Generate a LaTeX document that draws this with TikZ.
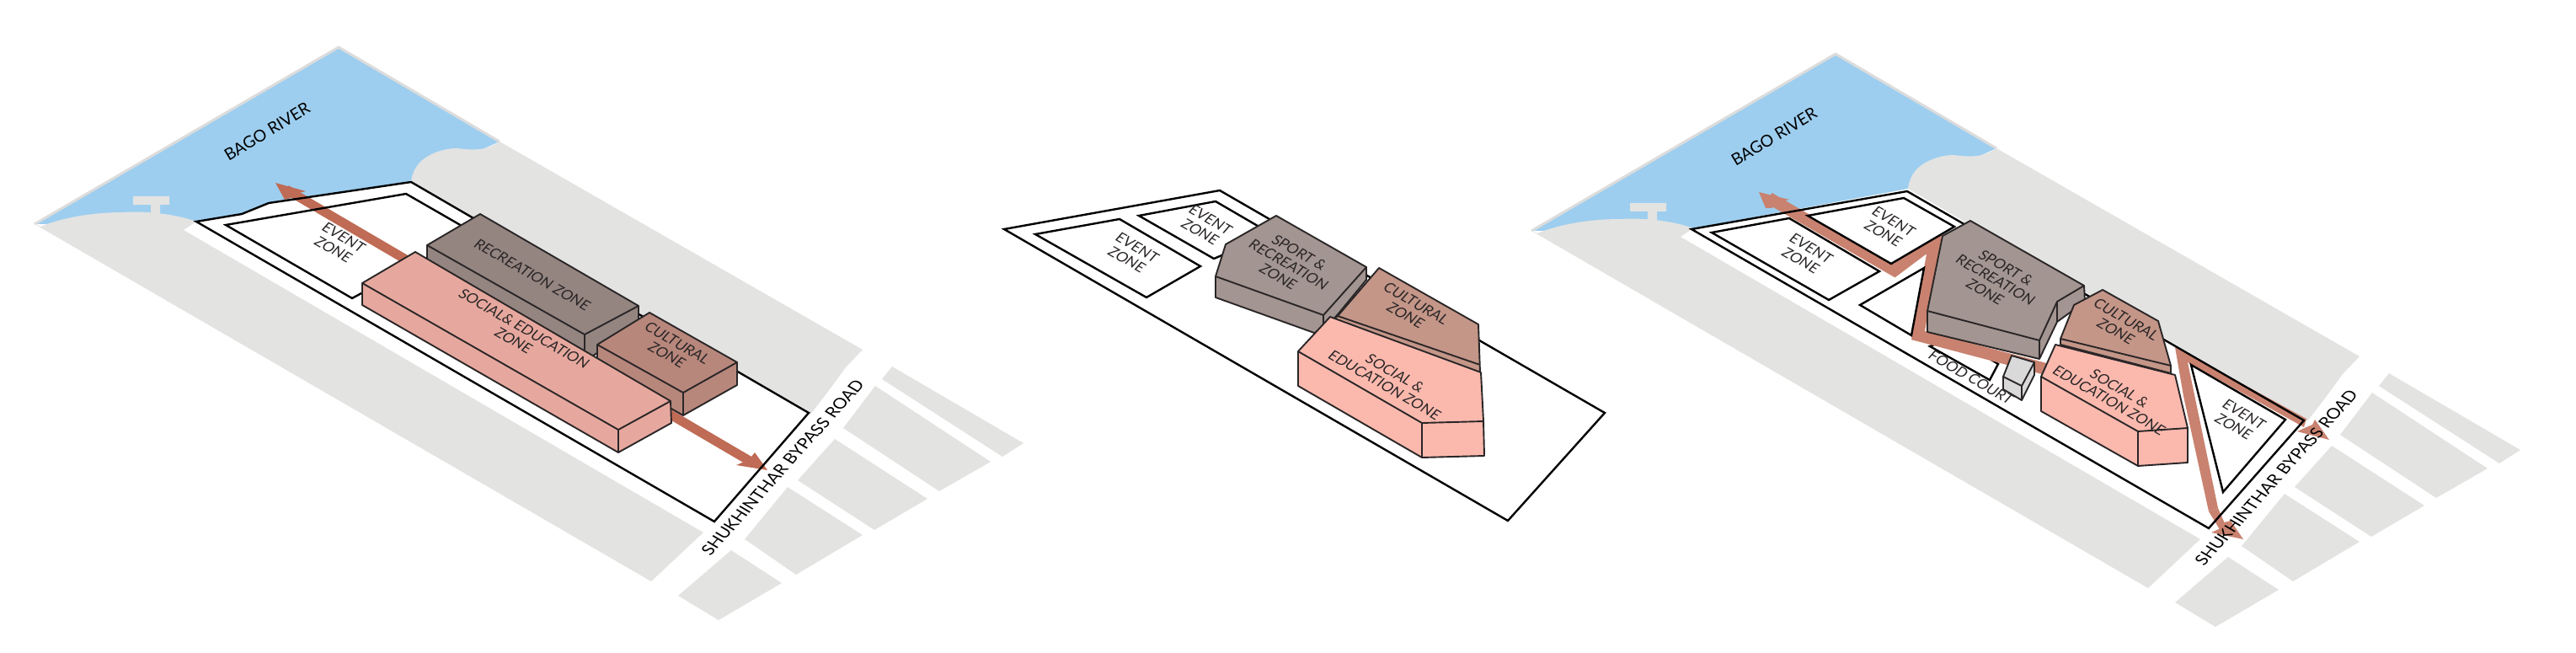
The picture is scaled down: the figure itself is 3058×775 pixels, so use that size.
\documentclass[tikz,border=0pt]{standalone}
\usepackage{fontspec}
\setmainfont{Lato}
\definecolor{ground}{HTML}{E3E3E2}
\definecolor{groundedge}{HTML}{DCDCDC}
\definecolor{river}{HTML}{9DCEEF}
\definecolor{recA}{HTML}{948581}
\definecolor{socA}{HTML}{E6A89E}
\definecolor{culA}{HTML}{B8877C}
\definecolor{flowA}{HTML}{BF6B55}
\definecolor{recB}{HTML}{A39591}
\definecolor{socB}{HTML}{FBB9AE}
\definecolor{culB}{HTML}{C49688}
\definecolor{flowB}{HTML}{C9826F}
\definecolor{ink}{HTML}{2A2627}
\tikzset{
  site/.style={draw=black,line width=2.4,line join=miter,fill=white},
  siteline/.style={draw=black,line width=2.4,line join=miter},
  zone/.style={draw=black,line width=2.4,line join=miter,fill=white},
  blk/.style={draw=ink,line width=1.9,line join=round},
  lbl/.style={text=ink,font=\fontsize{17}{18.5}\selectfont,align=center,inner sep=0pt,rotate=-30,xslant=0.2},
  bigl/.style={text=black,font=\fontsize{19.5}{22}\selectfont,align=center,inner sep=0pt},
  barA/.style={draw=flowA,line width=11},
  barB/.style={draw=flowB,line width=14,line join=miter}
}
\newcommand{\sitebackground}{%
  \fill[river] (41,266) -- (402,56) -- (593,168) -- (488,216) -- (233,263) -- cycle;
  \draw[groundedge,line width=3] (41,266) -- (402,56) -- (593,168);
  \fill[ground] (41,266) -- (773,690) -- (835,632) -- (218,273) -- (233,263)
     .. controls (210,254) and (170,250) .. (147,252)
     .. controls (110,252) and (75,258) .. (48,269) -- cycle;
  \fill[ground] (158,233) -- (201,233) -- (201,243) -- (190,243) -- (190,256) -- (179,256) -- (179,243) -- (158,243) -- cycle;
  \fill[ground] (593,168) -- (1024,415) -- (1004,436) -- (982,466) -- (962,492) -- (488,216)
     .. controls (489,205) and (495,194) .. (504,188)
     .. controls (515,180) and (530,176) .. (542,176)
     .. controls (560,178) and (575,180) .. (593,168) -- cycle;
  \fill[ground] (1059,435) -- (1215,526) -- (1190,542) -- (1047,450) -- cycle;
  \fill[ground] (1039,458) -- (1176,548) -- (1115,583) -- (1001,508) -- cycle;
  \fill[ground] (991,521) -- (1101,592) -- (1038,629) -- (947,570) -- cycle;
  \fill[ground] (935,578) -- (1024,635) -- (945,682) -- (884,640) -- cycle;
  \fill[ground] (868,653) -- (928,692) -- (853,736) -- (805,707) -- cycle;
}
\begin{document}
\begin{tikzpicture}[x=1pt,y=-1pt]
\useasboundingbox (0,0) rectangle (3058,775);
% ---------- left diagram ----------
\sitebackground
\fill[white] (233,263) -- (287,254) -- (319,241) -- (488,216) -- (960,490) -- (848,619) -- cycle;
\coordinate (a1s) at (340,225);
\coordinate (a1e) at (895,550);
\draw[barA] (a1s) -- (a1e);
\fill[flowA] (327,217) -- (363,227) -- (350,230) -- (345,235) -- (338,237) -- cycle;
\fill[flowA] (911,558) -- (874,552) -- (888,546) -- (892,542) -- (896,537) -- cycle;
\draw[siteline] (233,263) -- (287,254) -- (319,241) -- (488,216) -- (960,490) -- (848,619) -- cycle;
\draw[siteline] (268,267) -- (482,230) -- (562,276) -- (418,354) -- cycle;
\filldraw[blk,fill=recA] (570,254) -- (758,363) -- (758,385) -- (700,425) -- (507,310) -- (507,291) -- cycle;
\draw[blk] (507,291) -- (694,397) -- (758,363);
\draw[blk] (694,397) -- (694,420);
\filldraw[blk,fill=culA] (771,371) -- (875,430) -- (875,457) -- (811,493) -- (709,435) -- (709,409) -- cycle;
\draw[blk] (709,409) -- (811,466) -- (875,430);
\draw[blk] (811,466) -- (811,493);
\filldraw[blk,fill=socA] (493,299) -- (796,476) -- (797,502) -- (734,537) -- (430,362) -- (430,336) -- cycle;
\draw[blk] (430,336) -- (734,510) -- (796,476);
\draw[blk] (734,510) -- (734,537);
\node[bigl,rotate=31] (d1river) at (317,156) {BAGO RIVER};
\node[lbl] (d1event) at (402,289) {EVENT\\ZONE};
\node[lbl] (d1rec) at (632,326) {RECREATION ZONE};
\node[lbl] (d1soc) at (616,397) {SOCIAL\& EDUCATION\\ZONE};
\node[lbl] (d1cul) at (798,414) {CULTURAL\\ZONE};
\node[bigl,rotate=48,xslant=-0.2] (d1road) at (929,555) {SHUKHINTHAR BYPASS ROAD};
% ---------- middle diagram ----------
\draw[site] (1192,272) -- (1448,226) -- (1905,490) -- (1790,618) -- cycle;
\draw[zone] (1229,278) -- (1329,260) -- (1425,316) -- (1361,353) -- cycle;
\draw[zone] (1352,256) -- (1443,239) -- (1510,278) -- (1441,307) -- cycle;
\filldraw[blk,fill=recB] (1515,256) -- (1622,317) -- (1622,332) -- (1589,372) -- (1573,390) -- (1560,395) -- (1443,353) -- (1443,328) -- (1455,290) -- cycle;
\draw[blk] (1443,328) -- (1571,374) -- (1622,317);
\draw[blk] (1571,374) -- (1571,392);
\filldraw[blk,fill=culB] (1637,318) -- (1755,385) -- (1757,442) -- (1582,380) -- (1588,375) -- cycle;
\draw[blk] (1588,375) -- (1757,433);
\filldraw[blk,fill=socB] (1579,376) -- (1758,442) -- (1761,500) -- (1762,541) -- (1688,543) -- (1541,458) -- (1541,417) -- cycle;
\draw[blk] (1541,417) -- (1688,502) -- (1761,500);
\draw[blk] (1688,502) -- (1688,543);
\node[lbl] (d2e1) at (1344,301) {EVENT\\ZONE};
\node[lbl] (d2e2) at (1431,268) {EVENT\\ZONE};
\node[lbl] (d2rec) at (1530,314) {SPORT \&\\RECREATION\\ZONE};
\node[lbl] (d2cul) at (1675,367) {CULTURAL\\ZONE};
\node[lbl] (d2soc) at (1650,450) {SOCIAL \&\\EDUCATION ZONE};
% ---------- right diagram ----------
\begin{scope}[shift={(1777,8)}]
\sitebackground
\end{scope}
\fill[white] (2008,272) -- (2264,227) -- (2735,499) -- (2622,627) -- cycle;
\draw[zone] (2291,411) -- (2362,451) -- (2372,432) -- (2320,400) -- cycle;
\coordinate (b1) at (2100,235);
\coordinate (b2) at (2249,321);
\coordinate (b3) at (2297,285);
\coordinate (b4) at (2277,398);
\coordinate (b5) at (2440,441);
\draw[barB] (b1) -- (b2) -- (b3) -- (b4) -- (b5);
\fill[flowB] (2088,228) -- (2124,237) -- (2112,240) -- (2103,247) -- (2096,247) -- cycle;
\fill[flowB] (2582,412) -- (2738,497) -- (2735,507) -- (2597,430) -- (2633,603) -- (2622,607) -- (2592,470) -- cycle;
\fill[flowB] (2663,640) -- (2625,632) -- (2634,628) -- (2640,620) -- (2648,618) -- cycle;
\fill[flowB] (2622,607) -- (2633,603) -- (2644,628) -- (2636,630) -- cycle;
\fill[flowB] (2765,522) -- (2727,512) -- (2738,507) -- (2745,504) -- (2748,498) -- cycle;
\draw[siteline] (2008,272) -- (2264,227) -- (2735,499) -- (2622,627) -- cycle;
\draw[zone] (2032,276) -- (2124,259) -- (2231,322) -- (2171,356) -- cycle;
\draw[zone] (2146,256) -- (2260,235) -- (2320,269) -- (2245,313) -- cycle;
\draw[zone] (2284,318) -- (2269,398) -- (2208,362) -- cycle;
\draw[zone] (2601,433) -- (2713,498) -- (2639,584) -- cycle;
\filldraw[blk,fill=recB] (2339,262) -- (2474,339) -- (2475,358) -- (2442,382) -- (2421,426) -- (2288,394) -- (2288,369) -- (2306,280) -- cycle;
\draw[blk] (2288,369) -- (2421,404) -- (2442,358) -- (2474,339);
\draw[blk] (2421,404) -- (2421,426);
\draw[blk] (2442,358) -- (2442,382);
\filldraw[blk,fill=gray!30] (2388,422) -- (2415,430) -- (2415,445) -- (2400,475) -- (2378,462) -- (2378,447) -- cycle;
\draw[blk] (2378,447) -- (2400,458) -- (2415,430);
\draw[blk] (2400,458) -- (2400,475);
\filldraw[blk,fill=culB] (2496,344) -- (2562,381) -- (2577,434) -- (2577,443) -- (2446,409) -- (2446,402) -- (2462,362) -- cycle;
\draw[blk] (2446,402) -- (2577,434);
\filldraw[blk,fill=socB] (2440,409) -- (2582,445) -- (2597,508) -- (2597,549) -- (2538,553) -- (2423,488) -- (2423,447) -- cycle;
\draw[blk] (2423,447) -- (2538,512) -- (2597,508);
\draw[blk] (2538,512) -- (2538,553);
\node[bigl,rotate=31] (d3river) at (2106,162) {BAGO RIVER};
\node[lbl] (d3e1) at (2144,302) {EVENT\\ZONE};
\node[lbl] (d3e2) at (2242,270) {EVENT\\ZONE};
\node[lbl] (d3rec) at (2369,332) {SPORT \&\\RECREATION\\ZONE};
\node[lbl] (d3cul) at (2518,386) {CULTURAL\\ZONE};
\node[lbl] (d3soc) at (2510,468) {SOCIAL \&\\EDUCATION ZONE};
\node[lbl] (d3e3) at (2658,499) {EVENT\\ZONE};
\node[lbl] (d3food) at (2340,448) {FOOD COURT};
\node[bigl,rotate=48,xslant=-0.2] (d3road) at (2702,567) {SHUKHINTHAR BYPASS ROAD};
\end{tikzpicture}
\end{document}
